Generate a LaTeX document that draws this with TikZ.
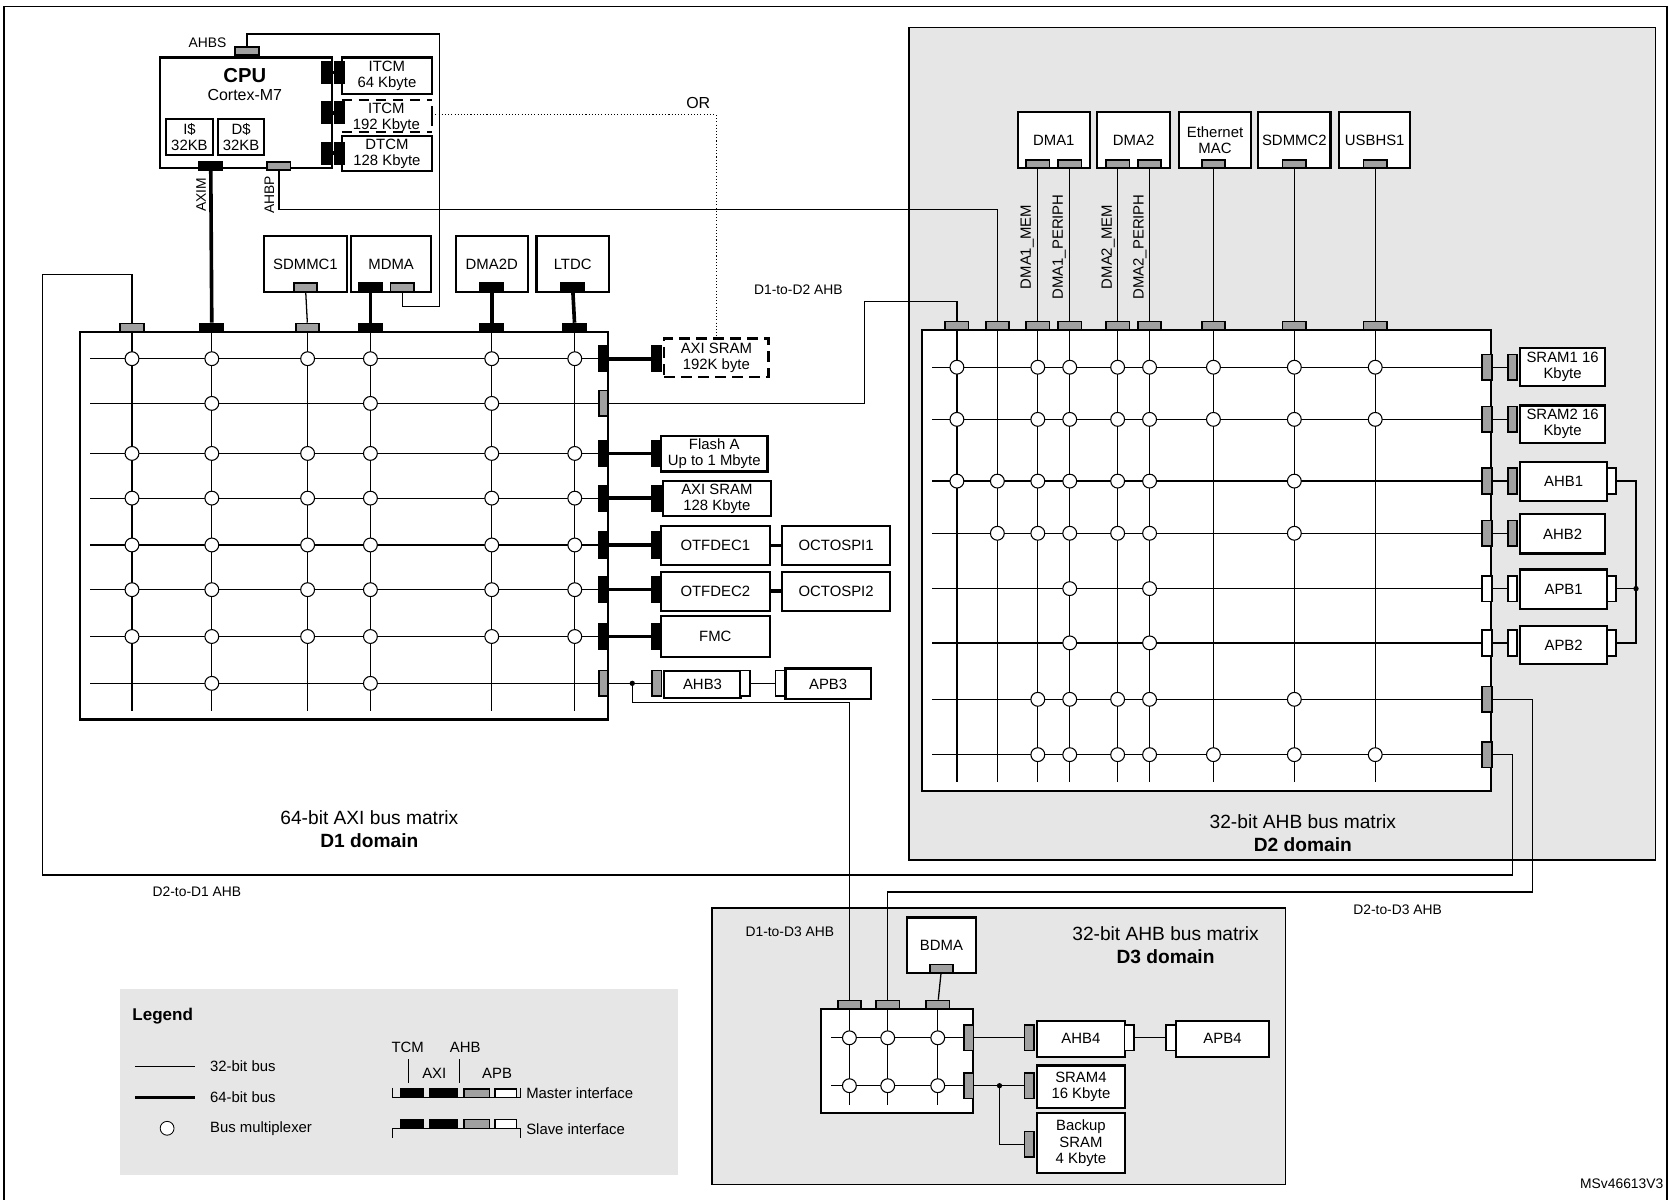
\documentclass[tikz,border=0pt]{standalone}
\usepackage{fontspec}
\setmainfont{Liberation Sans}
\usetikzlibrary{positioning}
\definecolor{dgrey}{RGB}{230,230,230}
\definecolor{pgrey}{RGB}{160,160,160}
\tikzset{
  blk/.style={draw,line width=1pt,fill=white,inner sep=0pt,align=center,font=\fontsize{7}{7.6}\selectfont},
  hp/.style={draw,line width=0.8pt,minimum width=11pt,minimum height=4pt,inner sep=0pt},
  vp/.style={draw,line width=0.8pt,minimum width=4.5pt,minimum height=12pt,inner sep=0pt},
  mp/.style={fill=black},
  gp/.style={fill=pgrey},
  wp/.style={fill=white},
  mux/.style={circle,draw,line width=0.5pt,fill=white,minimum size=6.5pt,inner sep=0pt},
  bus/.style={line width=0.6pt},
  bus64/.style={line width=1.7pt},
  lbl/.style={inner sep=0pt,font=\fontsize{6.5}{7}\selectfont},
  big/.style={inner sep=0pt,align=center,font=\fontsize{9}{11}\selectfont},
}
% box from its corners
\newcommand\blkbox[6]{\node[blk,minimum width={(#4-#2)*0.5pt},minimum height={(#5-#3)*0.5pt}] (#1) at ({(#2+#4)/2},{(#3+#5)/2}) {#6};}
\begin{document}
\begin{tikzpicture}[x=0.5pt,y=-0.5pt]
\useasboundingbox (0,0) rectangle (1568,1127);
\draw[line width=0.8pt] (4,6) rectangle (1566,1130);
% domain backgrounds
\draw[fill=dgrey,line width=0.6pt] (854,26) rectangle (1555,808);
\draw[fill=dgrey,line width=0.6pt] (669,853) rectangle (1208,1113);
\fill[dgrey] (113,929) rectangle (637,1104);

%% D1 domain
\blkbox{cpu}{150}{54}{312}{158}{}
\node[inner sep=0pt,font=\fontsize{9.5}{10}\selectfont\bfseries] at (230,71) {CPU};
\node[lbl,font=\fontsize{7.5}{8}\selectfont] at (230,89) {Cortex-M7};
\blkbox{icache}{156}{112}{200}{146}{I\$\\32KB}
\blkbox{dcache}{205}{112}{248}{146}{D\$\\32KB}
\blkbox{itcm}{321}{54}{406}{88}{ITCM\\64 Kbyte}
\node[blk,draw=none,fill=none,minimum width=42pt,minimum height=15pt] (itcmb) at (363,111) {ITCM\\192 Kbyte};
\draw[dashed,line width=1pt,dash pattern=on 5pt off 3pt] (321,94) -- (406,94) (321,124) -- (406,124);
\draw[line width=1pt] (406,100) -- (406,118);
\blkbox{dtcm}{321}{128}{406}{161}{DTCM\\128 Kbyte}
\foreach \n/\y in {a/68,b/106,c/144}{
  \node[vp,mp,minimum height=10pt] (ct\n) at (307,\y) {};
  \node[vp,mp,minimum height=10pt] (tt\n) at (319,\y) {};
  \draw[bus64] (ct\n) -- (tt\n);
}
\node[hp,gp] (ahbs) at (232,48) {};
\node[lbl,anchor=south] at (195,45) {AHBS};
\node[hp,mp] (axim) at (198,156) {};
\node[hp,gp] (ahbp) at (262,156) {};
\node[lbl,rotate=90] at (189,183) {AXIM};
\node[lbl,rotate=90] at (253,183) {AHBP};
\node[lbl,font=\fontsize{7.5}{8}\selectfont] at (656,97) {OR};

\blkbox{sdmmc1}{248}{222}{326}{274}{SDMMC1}
\blkbox{mdma}{330}{222}{405}{274}{MDMA}
\blkbox{dmaxd}{428}{222}{496}{274}{DMA2D}
\blkbox{ltdc}{504}{222}{572}{274}{LTDC}
\node[hp,gp,above=0pt of sdmmc1.south] (sdp) {};
\node[hp,mp] (mdmap) at (348,270) {};
\node[hp,gp] (mdmas) at (378,270) {};
\node[hp,mp,above=0pt of dmaxd.south] (dmaxdp) {};
\node[hp,mp,above=0pt of ltdc.south] (ltdcp) {};

% D1 matrix
\draw[line width=1pt] (75,312) rectangle (571,676);
\foreach \c in {124,199,289,348,462,540} \draw[bus] (\c,312) -- (\c,668);
\foreach \r in {337,379,426,468,512,554,598,642} \draw[bus] (85,\r) -- (567,\r);
\foreach \r in {337,426,468,512,554,598}
  \foreach \c in {124,199,289,348,462,540} \node[mux] at (\c,\r) {};
\foreach \r in {379,642} \foreach \c in {199,348} \node[mux] at (\c,\r) {};
\node[mux] at (462,379) {};
\foreach \i/\c/\t in {1/124/gp,2/199/mp,3/289/gp,4/348/mp,5/462/mp,6/540/mp}
  \node[hp,\t] (d1t\i) at (\c,308) {};
\foreach \i/\r/\t in {1/337/mp,2/379/gp,3/426/mp,4/468/mp,5/512/mp,6/554/mp,7/598/mp,8/642/gp}
  \node[vp,\t] (d1r\i) at (567,\r) {};

% D1 slaves
\node[blk,dashed,dash pattern=on 5pt off 3pt,minimum width=49pt,minimum height=18pt] (axisa) at (673,336) {AXI SRAM\\192K byte};
\blkbox{flash}{621}{410}{721}{443}{Flash A\\Up to 1 Mbyte}
\blkbox{axisb}{623}{452}{724}{485}{AXI SRAM\\128 Kbyte}
\blkbox{otf1}{621}{494}{723}{531}{OTFDEC1}
\blkbox{ospi1}{735}{494}{836}{531}{OCTOSPI1}
\blkbox{otf2}{621}{537}{723}{574}{OTFDEC2}
\blkbox{ospi2}{735}{537}{836}{574}{OCTOSPI2}
\blkbox{fmc}{621}{579}{723}{617}{FMC}
\blkbox{ahbiii}{624}{630}{696}{656}{AHB3}
\blkbox{apbiii}{738}{628}{818}{657}{APB3}
\foreach \i/\r in {1/337,3/426,4/468,5/512,6/554,7/598}{
  \node[vp,mp] (s\i) at (617,\r) {};
  \draw[bus64] (d1r\i) -- (s\i);
}
\draw[bus64] (otf1) -- (ospi1);
\draw[bus64] (otf2) -- (ospi2);
\node[vp,gp] (ahbiiil) at (617,642) {};
\node[vp,wp] (ahbiiir) at (700,642) {};
\node[vp,wp] (apbiiil) at (733,642) {};
\draw[bus] (d1r8) -- (ahbiiil);
\draw[bus] (ahbiiir) -- (apbiiil);
\fill (594,642) circle (2.5);
\coordinate (dot1) at (594,642);

% D1 connections
\draw[bus64] (axim) -- (d1t2);
\draw[bus64] (mdmap) -- (d1t4);
\draw[bus64] (dmaxdp) -- (d1t5);
\draw[bus64] (ltdcp) -- (d1t6);
\draw[bus] (sdp) -- (d1t3);
\draw[bus] (ahbs.north) |- (413,32) |- (378,288) -- (mdmas.south);
\draw[densely dotted,line width=0.5pt] (406,108) -| (axisa.north);

\node[big] at (347,779) {64-bit AXI bus matrix\\\textbf{D1 domain}};

%% D2 domain
\blkbox{dmai}{956}{105}{1024}{158}{DMA1}
\blkbox{dmaii}{1031}{105}{1099}{158}{DMA2}
\blkbox{eth}{1108}{105}{1175}{158}{Ethernet\\MAC}
\blkbox{sdmmcii}{1182}{105}{1250}{158}{SDMMC2}
\blkbox{usb}{1258}{105}{1325}{158}{USBHS1}
\foreach \n/\c in {a/975,b/1005,c/1050,d/1080,e/1140,f/1216,g/1292}
  \node[hp,gp] (mp\n) at (\c,154) {};
\draw[line width=1pt,fill=white] (866,310) rectangle (1401,743);
\foreach \c in {899,937,975,1005,1050,1080,1140,1216,1292} \draw[bus] (\c,310) -- (\c,735);
\foreach \r in {345,394,452,501,553,604,657,709} \draw[bus] (876,\r) -- (1397,\r);
% multiplexers, row by row
\foreach \r in {345,394}
  \foreach \c in {899,975,1005,1050,1080,1140,1216,1292} \node[mux] at (\c,\r) {};
\foreach \c in {899,937,975,1005,1050,1080,1216} \node[mux] at (\c,452) {};
\foreach \c in {937,975,1005,1050,1080,1216} \node[mux] at (\c,501) {};
\foreach \r in {553,604}
  \foreach \c in {1005,1080} \node[mux] at (\c,\r) {};
\foreach \c in {975,1005,1050,1080,1216} \node[mux] at (\c,657) {};
\foreach \c in {975,1005,1050,1080,1140,1216,1292} \node[mux] at (\c,709) {};
\foreach \i/\c in {1/899,2/937,3/975,4/1005,5/1050,6/1080,7/1140,8/1216,9/1292}
  \node[hp,gp] (d2t\i) at (\c,306) {};
\foreach \i/\r/\t in {1/345/gp,2/394/gp,3/452/gp,4/501/gp,5/553/wp,6/604/wp,7/657/gp,8/709/gp}
  \node[vp,\t] (d2r\i) at (1397,\r) {};
\draw[bus] (mpa) -- (d2t3);
\draw[bus] (mpb) -- (d2t4);
\draw[bus] (mpc) -- (d2t5);
\draw[bus] (mpd) -- (d2t6);
\draw[bus] (mpe) -- (d2t7);
\draw[bus] (mpf) -- (d2t8);
\draw[bus] (mpg) -- (d2t9);
\foreach \x/\t in {965/DMA1\_MEM,995/DMA1\_PERIPH,1041/DMA2\_MEM,1071/DMA2\_PERIPH}
  \node[lbl,font=\fontsize{7}{7.5}\selectfont,rotate=90] at (\x,232) {\t};
\draw[bus] (ahbp.south) |- (937,197) -- (d2t2);
\draw[bus] (d1r2) -| (812,283) -| (d2t1);
\node[lbl] at (750,272) {D1-to-D2 AHB};

% D2 slaves
\blkbox{srami}{1428}{327}{1508}{363}{SRAM1 16\\Kbyte}
\blkbox{sramii}{1428}{381}{1508}{416}{SRAM2 16\\Kbyte}
\blkbox{ahbi}{1428}{434}{1510}{471}{AHB1}
\blkbox{ahbii}{1428}{483}{1508}{520}{AHB2}
\blkbox{apbi}{1428}{535}{1510}{572}{APB1}
\blkbox{apbii}{1428}{588}{1510}{624}{APB2}
\foreach \i/\r/\t in {1/345/gp,2/394/gp,3/452/gp,4/501/gp,5/553/wp,6/604/wp}{
  \node[vp,\t] (sl\i) at (1421,\r) {};
  \draw[bus] (d2r\i) -- (sl\i);
}
\foreach \n/\r in {a/452,b/553,c/604} \node[vp,wp] (rp\n) at (1514,\r) {};
\draw[bus] (rpa) -| (1537,604) -- (rpc);
\draw[bus] (rpb) -- (1537,553);
\fill (1537,553) circle (2.5);

\node[big] at (1224,783) {32-bit AHB bus matrix\\\textbf{D2 domain}};

%% D3 domain
\blkbox{bdma}{852}{862}{917}{914}{BDMA}
\node[hp,gp,above=0pt of bdma.south] (bdmap) {};
\draw[line width=1pt,fill=white] (771,948) rectangle (914,1046);
\foreach \c in {798,834,881} \draw[bus] (\c,948) -- (\c,1038);
\foreach \r in {975,1020} {
  \draw[bus] (781,\r) -- (910,\r);
  \foreach \c in {798,834,881} \node[mux] at (\c,\r) {};
}
\foreach \i/\c in {1/798,2/834,3/881} \node[hp,gp] (d3t\i) at (\c,944) {};
\node[vp,gp] (d3ra) at (910,975) {};
\node[vp,gp] (d3rb) at (910,1020) {};
\draw[bus] (bdmap) -- (d3t3);
\blkbox{ahbiv}{974}{959}{1057}{993}{AHB4}
\blkbox{apbiv}{1105}{959}{1192}{993}{APB4}
\blkbox{sramiv}{974}{1001}{1057}{1041}{SRAM4\\16 Kbyte}
\blkbox{bkp}{974}{1046}{1057}{1102}{Backup\\SRAM\\4 Kbyte}
\node[vp,gp] (ahbivl) at (967,975) {};
\node[vp,wp] (ahbivr) at (1061,975) {};
\node[vp,wp] (apbivl) at (1100,975) {};
\node[vp,gp] (sramivl) at (967,1020) {};
\node[vp,gp] (bkpl) at (967,1075) {};
\draw[bus] (d3ra) -- (ahbivl);
\draw[bus] (ahbivr) -- (apbivl);
\draw[bus] (d3rb) -- (sramivl);
\draw[bus] (939,1020) |- (bkpl);
\fill (939,1020) circle (2.5);
\node[big] at (1095,888) {32-bit AHB bus matrix\\\textbf{D3 domain}};
\node[lbl] at (742,875) {D1-to-D3 AHB};

%% domain crossings
\draw[bus] (dot1) |- (798,660) -- (d3t1);
\draw[bus] (d2r7.east) -| (1440,838) -| (d3t2);
\draw[bus] (d2r8.east) -| (1421,822) -| (40,258) -| (d1t1);
\node[lbl] at (185,838) {D2-to-D1 AHB};
\node[lbl] at (1313,855) {D2-to-D3 AHB};

%% legend
\node[inner sep=0pt,font=\fontsize{8}{9}\selectfont\bfseries,anchor=west] at (124,955) {Legend};
\draw[line width=0.4pt] (127,1002) -- (183,1002);
\draw[bus64] (127,1031) -- (183,1031);
\node[mux,line width=0.4pt] at (157,1060) {};
\foreach \y/\t in {1002/32-bit bus,1031/64-bit bus,1060/Bus multiplexer}
  \node[lbl,font=\fontsize{7}{8}\selectfont,anchor=west] at (197,\y) {\t};
\node[lbl,font=\fontsize{7}{8}\selectfont] at (383,984) {TCM};
\node[lbl,font=\fontsize{7}{8}\selectfont] at (437,984) {AHB};
\node[lbl,font=\fontsize{7}{8}\selectfont] at (408,1008) {AXI};
\node[lbl,font=\fontsize{7}{8}\selectfont] at (467,1008) {APB};
\draw[line width=0.4pt] (384,995) -- (384,1017) (432,995) -- (432,1017);
\draw[line width=0.6pt] (369,1022) |- (489,1031) -- (489,1022);
\draw[line width=0.6pt] (369,1069) |- (489,1060) -- (489,1069);
\foreach \a/\b/\t in {376/398/black,404/430/black,436/460/pgrey,465/485/white}{
  \draw[line width=0.6pt,fill=\t] (\a,1023) rectangle (\b,1031);
  \draw[line width=0.6pt,fill=\t] (\a,1052) rectangle (\b,1060);
}
\node[lbl,font=\fontsize{7}{8}\selectfont,anchor=west] at (494,1027) {Master interface};
\node[lbl,font=\fontsize{7}{8}\selectfont,anchor=west] at (494,1061) {Slave interface};

\node[lbl,anchor=east] at (1563,1112) {MSv46613V3};
\end{tikzpicture}
\end{document}
